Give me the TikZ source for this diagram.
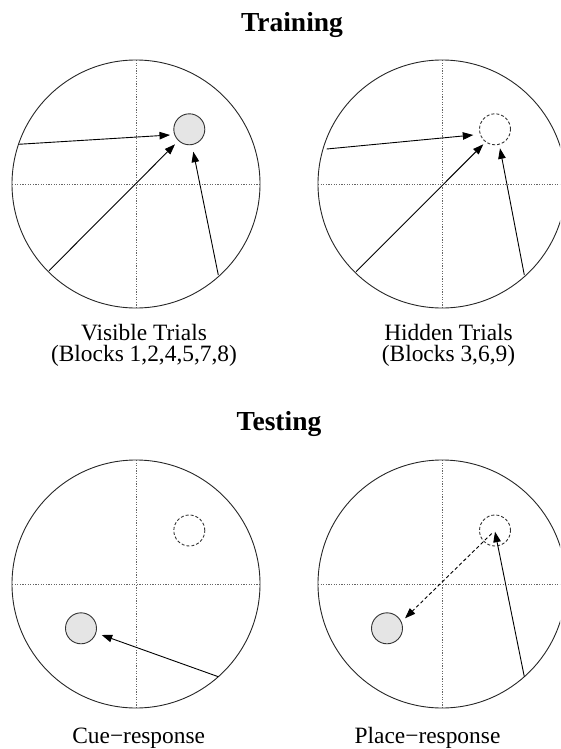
\documentclass[tikz,border=0pt]{standalone}
\usepackage{fontspec}
\setmainfont{Liberation Serif}
\usetikzlibrary{arrows.meta}
\tikzset{
  pool/.style={draw=black!85, line width=0.9pt},
  axis/.style={draw=black!60, line width=0.8pt, dash pattern=on 1.2pt off 1.4pt},
  vis/.style={circle, draw=black!80, fill=black!10, line width=0.9pt, minimum size=31pt, inner sep=0pt},
  hid/.style={circle, draw=black!80, line width=0.9pt, dash pattern=on 3pt off 2pt, minimum size=31pt, inner sep=0pt},
  path/.style={draw=black, line width=0.9pt, -{Triangle[length=10.5pt,width=7.5pt]}},
  dpath/.style={path, dash pattern=on 3.5pt off 2.5pt},
  title/.style={font=\fontsize{27.5}{30}\selectfont\bfseries, anchor=base},
  lab/.style={font=\fontsize{23.4}{22}\selectfont, anchor=base, align=center}
}
\begin{document}
\begin{tikzpicture}[x=1pt,y=-1pt]
\useasboundingbox (0,0) rectangle (560,749);
\clip (0,0) rectangle (560,749);
% titles
\node[title] (tr) at (292,31.5) {Training};
\node[title] (te) at (279,430) {Testing};
% pools
\foreach \n/\cx/\cy in {A/136/184, B/442/184, C/136/584, D/442/584}{
  \coordinate (\n) at (\cx,\cy);
  \draw[axis] (\cx-124,\cy) -- (\cx+124,\cy);
  \draw[axis] (\cx,\cy-124) -- (\cx,\cy+124);
  \draw[pool] (\n) circle[radius=124];
}
% platforms
\node[vis] (pA) at (189.3,129.3) {};
\node[hid] (pB) at (495,129.3) {};
\node[hid] (pCh) at (189.3,530.5) {};
\node[vis] (pCv) at (81,628.3) {};
\node[hid] (pDh) at (495,530.5) {};
\node[vis] (pDv) at (387,628.3) {};
% start points and tips
\coordinate (a1) at (18.5,144.3);  \coordinate (ta1) at (170,135);
\coordinate (a2) at (49,270.7);    \coordinate (ta2) at (175,144.3);
\coordinate (a3) at (218.3,275);   \coordinate (ta3) at (193.3,151.7);
\coordinate (b1) at (326.7,149);   \coordinate (tb1) at (473.3,135);
\coordinate (b2) at (356,271.7);   \coordinate (tb2) at (483.3,144.3);
\coordinate (b3) at (524.3,275);   \coordinate (tb3) at (500,148.3);
\coordinate (c1) at (218.3,676.7); \coordinate (tc1) at (101.7,635);
\coordinate (d1) at (524.3,676.7); \coordinate (td1) at (495,531.7);
\coordinate (d2) at (491.7,533.5); \coordinate (td2) at (405,618.3);
\draw[path] (a1) -- (ta1);
\draw[path] (a2) -- (ta2);
\draw[path] (a3) -- (ta3);
\draw[path] (b1) -- (tb1);
\draw[path] (b2) -- (tb2);
\draw[path] (b3) -- (tb3);
\draw[path] (c1) -- (tc1);
\draw[path] (d1) -- (td1);
\draw[dpath] (d2) -- (td2);
% labels
\node[lab] (l1) at (144,340) {Visible Trials};
\node[lab] (l1b) at (144,361.5) {(Blocks 1,2,4,5,7,8)};
\node[lab] (l2) at (448.5,340) {Hidden Trials};
\node[lab] (l2b) at (448.5,361.5) {(Blocks 3,6,9)};
\node[lab] (l3) at (138.7,743) {Cue−response};
\node[lab] (l4) at (427.5,743) {Place−response};
\end{tikzpicture}
\end{document}
